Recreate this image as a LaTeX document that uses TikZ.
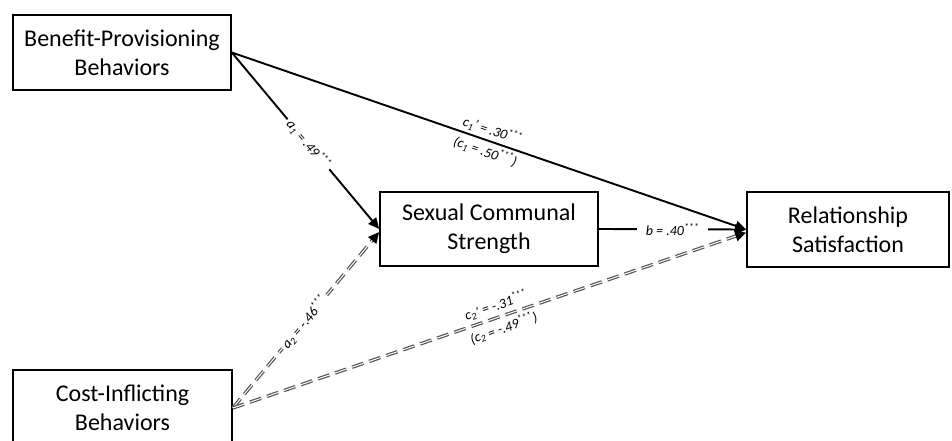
\documentclass[tikz,border=0pt]{standalone}
\usepackage{fontspec}
\setmainfont{Carlito}
\usetikzlibrary{arrows.meta,positioning}

\begin{document}
\begin{tikzpicture}[x=1pt,y=-1pt,
    box/.style={draw,line width=1.6pt,align=center,inner sep=0pt,font=\fontsize{24}{29}\selectfont},
    path/.style={line width=1.9pt,-{Triangle[length=11pt,width=10pt]}},
    dpath/.style={draw=gray!65!black,line width=3.4pt,dash pattern=on 12pt off 6pt,
      -{Triangle[length=11pt,width=10pt,color=black]},
      postaction={draw=white,line width=1pt,-,dash pattern=on 12pt off 6pt,shorten >=11pt}},
    lab/.style={font=\fontsize{14}{15}\selectfont\itshape,inner sep=3pt},
    gap/.style={lab,fill=white}]
    \useasboundingbox (0,0) rectangle (952,441);
    \node[box,minimum width=218pt,minimum height=75pt] (bp) at (122,52.5){Benefit-Provisioning\\Behaviors};
    \node[box,minimum width=219pt,minimum height=76pt] (ci) at (122.5,408){Cost-Inflicting\\Behaviors};
    \node[box,minimum width=218pt,minimum height=74pt] (scs) at (489,229){Sexual Communal\\Strength};
    \node[box,minimum width=202pt,minimum height=75pt] (rs) at (848,229.5){Relationship\\Satisfaction};
    \coordinate (scsin) at ([yshift=-3pt]scs.west);
    \coordinate (rsin) at ([yshift=-3pt]rs.west);
    \draw[dpath] (ci.east) -- node[gap,sloped,pos=0.49]{a\textsubscript{2} = -.46\textsuperscript{***}} (scsin);
    \draw[dpath] (ci.east) -- node[lab,sloped,above,pos=0.52]{c\textsubscript{2}’ = -.31\textsuperscript{***}}
        node[lab,sloped,below,pos=0.52]{(c\textsubscript{2} = -.49\textsuperscript{***})} (rsin);
    \draw[path] (bp.east) -- node[gap,sloped,pos=0.52]{a\textsubscript{1} = .49\textsuperscript{***}} (scs.west);
    \draw[path] (bp.east) -- node[lab,sloped,above,pos=0.5]{c\textsubscript{1}’ = .30\textsuperscript{***}}
        node[lab,sloped,below,pos=0.5]{(c\textsubscript{1} = .50\textsuperscript{***})} (rs.west);
    \draw[path] (scs.east) -- node[gap,inner xsep=9pt]{b = .40\textsuperscript{***}} (rs.west);
\end{tikzpicture}
\end{document}
